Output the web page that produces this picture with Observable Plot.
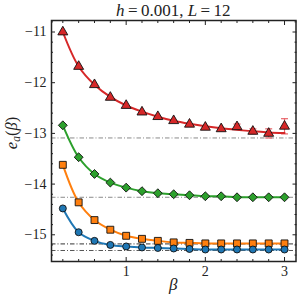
<!DOCTYPE html>
<html><head><meta charset="utf-8">
<script src="https://cdn.jsdelivr.net/npm/d3@7"></script>
<script src="https://cdn.jsdelivr.net/npm/@observablehq/plot@0.6"></script>
<style>html,body{margin:0;padding:0;background:#fff} svg{display:block}</style>
</head><body><div id="chart"></div>
<script>
const beta = [0.2,0.4,0.6,0.8,1.0,1.2,1.4,1.6,1.8,2.0,2.2,2.4,2.6,2.8,3.0];
const eRed    = [-11.00,-11.68,-12.04,-12.29,-12.45,-12.58,-12.67,-12.75,-12.82,-12.88,-12.91,-12.87,-12.96,-13.00,-12.86];
const errRed  = [0,0,0,0,0,0,0,0,0,0,0,0.055,0.05,0.09,0.15];
const fitRed  = [-11.00,-11.68,-12.04,-12.28,-12.45,-12.57,-12.67,-12.75,-12.81,-12.86,-12.90,-12.93,-12.96,-12.98,-12.99];
const eGreen  = [-12.84,-13.47,-13.80,-13.97,-14.07,-14.14,-14.18,-14.20,-14.22,-14.24,-14.24,-14.26,-14.26,-14.26,-14.26];
const eOrange = [-13.62,-14.36,-14.71,-14.90,-15.02,-15.08,-15.12,-15.15,-15.16,-15.17,-15.17,-15.17,-15.17,-15.17,-15.17];
const eBlue   = [-14.48,-14.95,-15.12,-15.20,-15.23,-15.25,-15.26,-15.27,-15.28,-15.29,-15.29,-15.29,-15.29,-15.29,-15.29];
const asymptotes = [-13.09,-14.26,-15.18,-15.31];
const asymColors = ["#8a8a8a","#8a8a8a","#333333","#555555"];
const xTicks = [1,2,3];
const xMinor = [0.2,0.4,0.6,0.8,1.2,1.4,1.6,1.8,2.2,2.4,2.6,2.8];
const yTicks = [-15,-14,-13,-12,-11];
const yMinor = [-15.4,-15.2,-14.8,-14.6,-14.4,-14.2,-13.8,-13.6,-13.4,-13.2,-12.8,-12.6,-12.4,-12.2,-11.8,-11.6,-11.4,-11.2,-10.8];

const series = [
  {name:"red", vals:eRed, fit:fitRed, color:"#d62728", symbol:"triangle", r:3.7},
  {name:"green", vals:eGreen, fit:eGreen, color:"#2ca02c", symbol:"diamond2", r:4.0},
  {name:"orange", vals:eOrange, fit:eOrange, color:"#ff7f0e", symbol:"square", r:3.9},
  {name:"blue", vals:eBlue, fit:eBlue, color:"#1f77b4", symbol:"circle", r:3.5}
];
const fitRows = series.flatMap(s => beta.map((b,i)=>({s:s.name, x:b, y:s.fit[i], c:s.color})));
const errRows = beta.map((b,i)=>({x:b, y:eRed[i], e:errRed[i]})).filter(d=>d.e>0);
const asymRows = asymptotes.map((v,i)=>({y:v, c:asymColors[i]}));
const capSymbol = {draw(ctx, size){ const w = Math.sqrt(size/Math.PI); ctx.moveTo(-w,0); ctx.lineTo(w,0); }};
const minus = d => (d<0?"\u2212":"") + Math.abs(d);
const font = "Liberation Serif";
const tickOnly = {fill:"none", label:null, stroke:"#222"};

const marks = [
  Plot.ruleY(asymRows, {y:"y", stroke:"c", strokeWidth:1, strokeDasharray:"4.5,2,1,2"}),
  Plot.ruleX(errRows, {x:"x", y1:d=>d.y-d.e, y2:d=>d.y+d.e, stroke:"#e8646a", strokeWidth:1.2}),
  Plot.dot(errRows, {x:"x", y:d=>d.y-d.e, symbol:capSymbol, r:3.5, stroke:"#e8646a", fill:"none", strokeWidth:1.2}),
  Plot.dot(errRows, {x:"x", y:d=>d.y+d.e, symbol:capSymbol, r:3.5, stroke:"#e8646a", fill:"none", strokeWidth:1.2}),
  Plot.line(fitRows, {x:"x", y:"y", z:"s", stroke:"c", strokeWidth:2, curve:"catmull-rom"}),
  ...series.map(s => Plot.dot(beta.map((b,i)=>({x:b, y:s.vals[i]})), {x:"x", y:"y", symbol:s.symbol, r:s.r, fill:s.color, stroke:"#111", strokeWidth:0.9})),
  Plot.axisX({anchor:"bottom", ticks:xTicks, tickSize:-4, tickPadding:9, tickFormat:d=>String(d), label:null, fontSize:14, fill:"#222", stroke:"#222"}),
  Plot.axisX({anchor:"bottom", ticks:xMinor, tickSize:-2, ...tickOnly}),
  Plot.axisX({anchor:"top", ticks:xTicks, tickSize:-4, ...tickOnly}),
  Plot.axisX({anchor:"top", ticks:xMinor, tickSize:-2, ...tickOnly}),
  Plot.axisY({anchor:"left", ticks:yTicks, tickSize:-4, tickPadding:9, tickFormat:minus, label:null, fontSize:14, fill:"#222", stroke:"#222"}),
  Plot.axisY({anchor:"left", ticks:yMinor, tickSize:-2, ...tickOnly}),
  Plot.axisY({anchor:"right", ticks:yTicks, tickSize:-4, ...tickOnly}),
  Plot.axisY({anchor:"right", ticks:yMinor, tickSize:-2, ...tickOnly}),
  Plot.frame({stroke:"#222", strokeWidth:1.5})
];

const chart = Plot.plot({
  width:299, height:298,
  marginLeft:51, marginRight:3.5, marginTop:20, marginBottom:37,
  x:{domain:[0.057,3.145]},
  y:{domain:[-15.527,-10.773]},
  color:{type:"identity"},
  style:{fontFamily:font, fontSize:"14px", background:"#fff", color:"#222"},
  marks
});
document.getElementById("chart").appendChild(chart);

const svg = d3.select(chart);
const title = svg.append("text").attr("x",173.3).attr("y",15.5).attr("text-anchor","middle")
  .attr("font-family",font).attr("font-size",17).attr("fill","#222");
title.append("tspan").attr("font-style","italic").text("h");
title.append("tspan").text("\u2009=\u20090.001, ");
title.append("tspan").attr("font-style","italic").text("L");
title.append("tspan").text("\u2009=\u200912");

svg.append("text").attr("x",173.3).attr("y",290).attr("text-anchor","middle")
  .attr("font-family",font).attr("font-size",17).attr("font-style","italic").attr("fill","#222").text("β");

const yl = svg.append("text").attr("transform","translate(17,133) rotate(-90)").attr("text-anchor","middle")
  .attr("font-family",font).attr("font-size",16.5).attr("fill","#222");
yl.append("tspan").attr("font-style","italic").text("e");
yl.append("tspan").attr("font-style","italic").attr("font-size",11.5).attr("dy",3).text("a");
yl.append("tspan").attr("dy",-3).text("(");
yl.append("tspan").attr("font-style","italic").text("β");
yl.append("tspan").text(")");
</script>
</body></html>
